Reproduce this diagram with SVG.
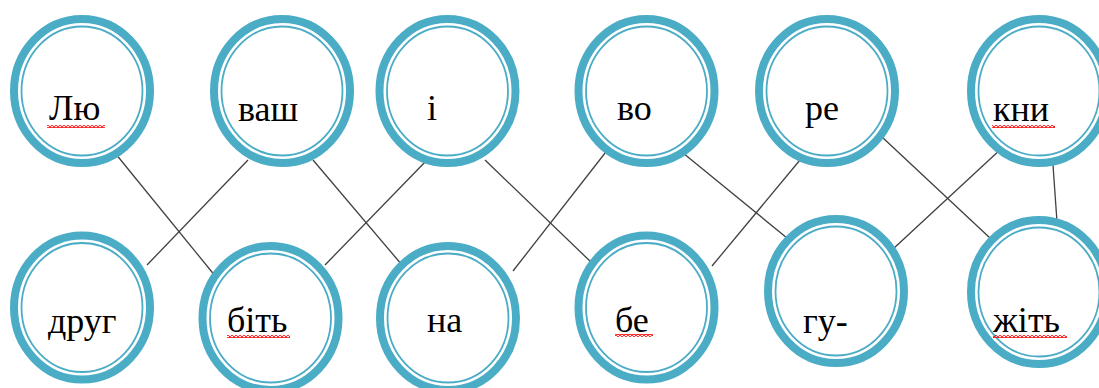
<svg xmlns="http://www.w3.org/2000/svg" width="1099" height="388" viewBox="0 0 1099 388">
<style>
.ring{fill:#fff;stroke:#4BACC6;stroke-width:8}
.inner{fill:none;stroke:#4BACC6;stroke-width:1.8}
.t{font-family:"Liberation Serif","Times New Roman",serif;font-size:36px;fill:#000}
.conn line{stroke:#404040;stroke-width:1.3}
.wave{fill:url(#wave)}
</style>
<defs>
<pattern id="wave" x="0" y="0" width="4" height="3" patternUnits="userSpaceOnUse">
<path d="M-2,0.5 L0,2.5 L2,0.5 L4,2.5 L6,0.5" fill="none" stroke="#ff0000" stroke-width="1.2"/>
</pattern>
</defs>
<g id="connectors" class="conn">
<line x1="115" y1="153" x2="216" y2="277"/>
<line x1="248" y1="160" x2="147" y2="265"/>
<line x1="313" y1="160" x2="402" y2="265"/>
<line x1="427" y1="160" x2="325" y2="265"/>
<line x1="485" y1="160" x2="593" y2="264"/>
<line x1="609" y1="148" x2="513" y2="271"/>
<line x1="683" y1="153" x2="787" y2="238"/>
<line x1="800" y1="160" x2="712" y2="266"/>
<line x1="882" y1="137" x2="990" y2="238"/>
<line x1="1002" y1="148" x2="893" y2="249"/>
<line x1="1053" y1="165" x2="1057" y2="222"/>
</g>
<g id="n-lyu">
<ellipse class="ring" cx="82" cy="91" rx="68" ry="72"/>
<ellipse class="inner" cx="82" cy="91" rx="60.5" ry="64.5"/>
<text class="t" x="49" y="120">Лю</text>
<rect class="wave" x="47" y="125" width="58" height="3"/>
</g>
<g id="n-vash">
<ellipse class="ring" cx="282" cy="91" rx="68" ry="72"/>
<ellipse class="inner" cx="282" cy="91" rx="60.5" ry="64.5"/>
<text class="t" x="238" y="120.5">ваш</text>
</g>
<g id="n-i">
<ellipse class="ring" cx="447.5" cy="91" rx="68" ry="72"/>
<ellipse class="inner" cx="447.5" cy="91" rx="60.5" ry="64.5"/>
<text class="t" x="427" y="120">і</text>
</g>
<g id="n-vo">
<ellipse class="ring" cx="646.5" cy="91" rx="68" ry="72"/>
<ellipse class="inner" cx="646.5" cy="91" rx="60.5" ry="64.5"/>
<text class="t" x="617" y="120">во</text>
</g>
<g id="n-re">
<ellipse class="ring" cx="827" cy="91" rx="68" ry="72"/>
<ellipse class="inner" cx="827" cy="91" rx="60.5" ry="64.5"/>
<text class="t" x="805" y="120">ре</text>
</g>
<g id="n-kny">
<ellipse class="ring" cx="1039" cy="91" rx="68" ry="72"/>
<ellipse class="inner" cx="1039" cy="91" rx="60.5" ry="64.5"/>
<text class="t" x="993" y="120.5">кни</text>
<rect class="wave" x="992" y="125" width="63" height="3"/>
</g>
<g id="n-druh">
<ellipse class="ring" cx="82" cy="307.5" rx="68" ry="72"/>
<ellipse class="inner" cx="82" cy="307.5" rx="60.5" ry="64.5"/>
<text class="t" x="48" y="333">друг</text>
</g>
<g id="n-bit">
<ellipse class="ring" cx="270.5" cy="318" rx="68" ry="72"/>
<ellipse class="inner" cx="270.5" cy="318" rx="60.5" ry="64.5"/>
<text class="t" x="227" y="332">біть</text>
<rect class="wave" x="227" y="335" width="63" height="3"/>
</g>
<g id="n-na">
<ellipse class="ring" cx="448" cy="318" rx="68" ry="72"/>
<ellipse class="inner" cx="448" cy="318" rx="60.5" ry="64.5"/>
<text class="t" x="427" y="331.5">на</text>
</g>
<g id="n-be">
<ellipse class="ring" cx="646.5" cy="307.5" rx="68" ry="72"/>
<ellipse class="inner" cx="646.5" cy="307.5" rx="60.5" ry="64.5"/>
<text class="t" x="615" y="331.5">бе</text>
<rect class="wave" x="615" y="334" width="38" height="3"/>
</g>
<g id="n-hu">
<ellipse class="ring" cx="836" cy="291" rx="68" ry="72"/>
<ellipse class="inner" cx="836" cy="291" rx="60.5" ry="64.5"/>
<text class="t" x="803" y="333">гу-</text>
</g>
<g id="n-zhit">
<ellipse class="ring" cx="1039" cy="292" rx="68" ry="72"/>
<ellipse class="inner" cx="1039" cy="292" rx="60.5" ry="64.5"/>
<text class="t" x="993" y="331.5">жіть</text>
<rect class="wave" x="993" y="335" width="74" height="3"/>
</g>
</svg>
